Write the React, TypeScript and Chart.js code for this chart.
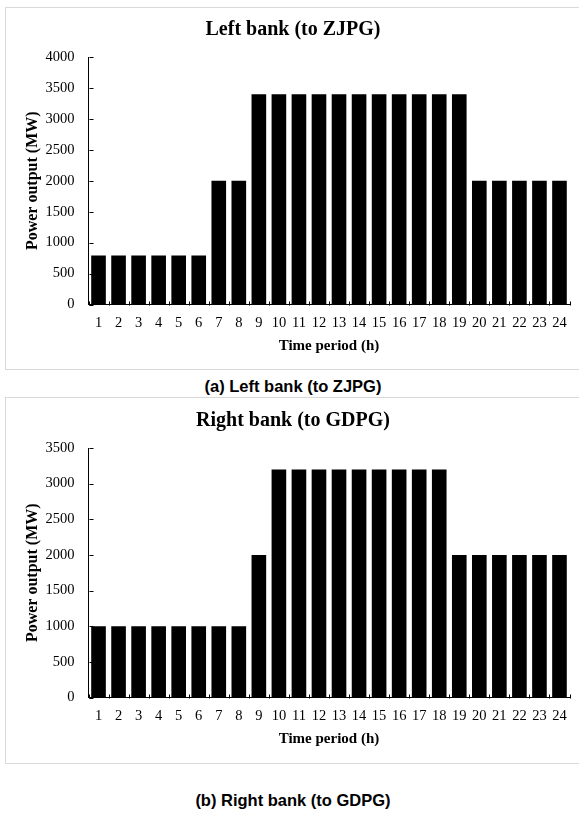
import React, { useEffect, useRef } from "react";
import { Chart, registerables } from "chart.js";

Chart.register(...registerables);

const hours = ["1","2","3","4","5","6","7","8","9","10","11","12","13","14","15","16","17","18","19","20","21","22","23","24"];
const leftBank = [790, 790, 790, 790, 790, 790, 2000, 2000, 3400, 3400, 3400, 3400, 3400, 3400, 3400, 3400, 3400, 3400, 3400, 2000, 2000, 2000, 2000, 2000];
const rightBank = [1000, 1000, 1000, 1000, 1000, 1000, 1000, 1000, 2000, 3200, 3200, 3200, 3200, 3200, 3200, 3200, 3200, 3200, 2000, 2000, 2000, 2000, 2000, 2000];
const leftMax = 4000;
const rightMax = 3500;
const yStep = 500;

const SERIF = "'Liberation Serif', 'Times New Roman', serif";

const innerTicks = {
  id: "innerTicks",
  afterDraw(chart: any) {
    const { ctx, chartArea, scales } = chart;
    const x = scales.x;
    const y = scales.y;
    ctx.save();
    ctx.strokeStyle = "#000";
    ctx.lineWidth = 1;
    ctx.beginPath();
    const lx = Math.round(chartArea.left) + 0.5;
    y.ticks.forEach((_t: any, i: number) => {
      const py = Math.round(y.getPixelForTick(i)) + 0.5;
      ctx.moveTo(lx, py);
      ctx.lineTo(lx + 4, py);
    });
    const by = Math.round(chartArea.bottom) + 0.5;
    for (let i = 0; i <= x.ticks.length; i++) {
      const px = Math.round(x.getPixelForValue(i - 0.5)) + 0.5;
      ctx.moveTo(px, by);
      ctx.lineTo(px, by - 4);
    }
    ctx.stroke();
    ctx.restore();
  },
};

function BarChart(props: { title: string; data: number[]; max: number; height: number }) {
  const ref = useRef<HTMLCanvasElement | null>(null);
  useEffect(() => {
    if (!ref.current) return;
    const chart = new Chart(ref.current, {
      type: "bar",
      data: {
        labels: hours,
        datasets: [
          {
            data: props.data,
            backgroundColor: "#000",
            borderWidth: 0,
            barPercentage: 0.73,
            categoryPercentage: 1,
          },
        ],
      },
      options: {
        animation: false,
        responsive: false,
        devicePixelRatio: 1,
        layout: { padding: { left: 16.5, right: 9.5, top: 0, bottom: 0 } },
        plugins: {
          legend: { display: false },
          tooltip: { enabled: false },
          title: {
            display: true,
            text: props.title,
            color: "#000",
            font: { family: SERIF, size: 20, weight: "bold", lineHeight: 1.2 },
            padding: { top: 18, bottom: 15 },
          },
        },
        scales: {
          x: {
            grid: { display: false, drawTicks: false },
            border: { display: true, color: "#000", width: 1 },
            ticks: {
              color: "#000",
              font: { family: SERIF, size: 14.5 },
              padding: 10,
              maxRotation: 0,
              autoSkip: false,
            },
            title: {
              display: true,
              text: "Time period (h)",
              color: "#000",
              font: { family: SERIF, size: 15, weight: "bold", lineHeight: 1.2 },
              padding: { top: 0, bottom: 15 },
            },
            afterFit: (s: any) => {
              s.height = 65.5;
            },
          },
          y: {
            min: 0,
            max: props.max,
            grid: { display: false, drawTicks: false },
            border: { display: true, color: "#000", width: 1 },
            ticks: {
              stepSize: yStep,
              color: "#000",
              font: { family: SERIF, size: 14.5 },
              padding: 14,
              callback: (v: any) => String(v),
            },
            title: {
              display: true,
              text: "Power output (MW)",
              color: "#000",
              font: { family: SERIF, size: 16, weight: "bold", lineHeight: 1.2 },
              padding: { top: 6.4, bottom: 0 },
            },
            afterFit: (s: any) => {
              s.width = 72;
            },
          },
        },
      },
      plugins: [innerTicks],
    } as any);
    return () => chart.destroy();
  }, []);
  return (
    <canvas
      ref={ref}
      width={579}
      height={props.height}
      style={{ width: 579, height: props.height, display: "block" }}
    />
  );
}

const boxStyle = (top: number, height: number): React.CSSProperties => ({
  position: "absolute",
  left: 5,
  top,
  width: 590,
  height,
  border: "1px solid #d9d9d9",
  boxSizing: "border-box",
});

const captionStyle = (top: number): React.CSSProperties => ({
  position: "absolute",
  left: 0,
  top,
  width: 586,
  textAlign: "center",
  fontFamily: "'Liberation Sans', Arial, sans-serif",
  fontWeight: "bold",
  fontSize: 16.5,
  lineHeight: "18px",
  color: "#000",
});

export default function App() {
  return (
    <div style={{ position: "absolute", left: 0, top: 0, width: 579, height: 817, overflow: "hidden", background: "#fff" }}>
      <div style={boxStyle(7, 363)} />
      <div style={boxStyle(397, 367)} />
      <div style={{ position: "absolute", left: 0, top: 0 }}>
        <BarChart title="Left bank (to ZJPG)" data={leftBank} max={leftMax} height={370} />
      </div>
      <div style={captionStyle(377)}>(a) Left bank (to ZJPG)</div>
      <div style={{ position: "absolute", left: 0, top: 391 }}>
        <BarChart title="Right bank (to GDPG)" data={rightBank} max={rightMax} height={372} />
      </div>
      <div style={captionStyle(791)}>(b) Right bank (to GDPG)</div>
    </div>
  );
}
